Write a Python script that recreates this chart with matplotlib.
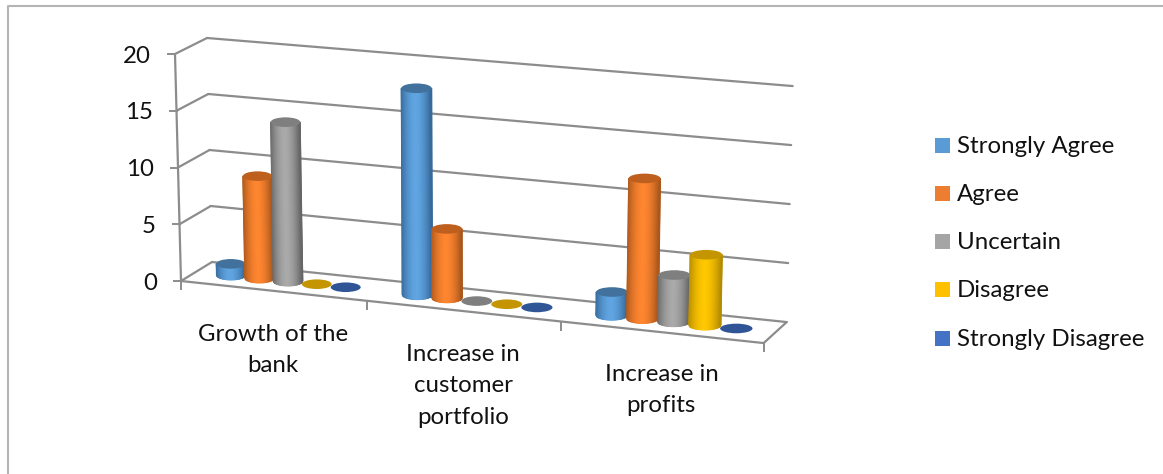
import numpy as np
import matplotlib
matplotlib.use("Agg")
import matplotlib.pyplot as plt
from matplotlib.colors import LinearSegmentedColormap
from matplotlib.patches import Ellipse, Rectangle

categories = ["Growth of the\nbank", "Increase in\ncustomer\nportfolio", "Increase in\nprofits"]
series = ["Strongly Agree", "Agree", "Uncertain", "Disagree", "Strongly Disagree"]
strongly_agree = [1, 18, 2]
agree = [9, 6, 12]
uncertain = [14, 0, 4]
disagree = [0, 0, 6]
strongly_disagree = [0, 0, 0]
y_ticks = [0, 5, 10, 15, 20]

values = [strongly_agree, agree, uncertain, disagree, strongly_disagree]

# (dark edge, light centre, cap) for each series
shades = [
    ("#37699a", "#60a5e2", "#41719c"),
    ("#a9571c", "#ff8630", "#bf5f1e"),
    ("#666666", "#aaaaaa", "#7f7f7f"),
    ("#b58c00", "#ffc800", "#c49500"),
    ("#2f5597", "#4472c4", "#2f5597"),
]
legend_colors = ["#5b9bd5", "#ed7d31", "#a5a5a5", "#ffc000", "#4472c4"]
grid_color = "#8c8c8c"
text_color = "#111111"

# pixel corners of the 3d box, u along categories, w front to back
front_bottom = np.array([[181, 281], [763, 343]], dtype=float)
back_bottom = np.array([[212, 262], [786, 322]], dtype=float)
front_top = np.array([[175, 54], [769, 107]], dtype=float)
back_top = np.array([[207, 38], [792, 86]], dtype=float)


def project(u, val, w):
    # categories get wider to the right, the box is in perspective
    t = u / (3.19 - 0.0645 * u)
    v = val / 20
    fb = front_bottom[0] * (1 - t) + front_bottom[1] * t
    bb = back_bottom[0] * (1 - t) + back_bottom[1] * t
    ft = front_top[0] * (1 - t) + front_top[1] * t
    bt = back_top[0] * (1 - t) + back_top[1] * t
    bottom = fb * (1 - w) + bb * w
    top = ft * (1 - w) + bt * w
    return bottom * (1 - v) + top * v


def line3d(ax, a, b, lw=1.6):
    ax.plot([a[0], b[0]], [a[1], b[1]], color=grid_color, lw=lw, solid_capstyle="round", zorder=1)


def cylinder(ax, u, val, shade, z):
    dark, light, cap = shade
    base = project(u, 0, 0.5)
    top = project(u, val, 0.5)
    rx = 14.5 + 0.6 * u
    ry = 4.8
    if val > 0:
        s = np.linspace(-1, 1, 41)
        xs = np.vstack([top[0] + s * rx, base[0] + s * rx])
        ys = np.vstack([np.full_like(s, top[1]), base[1] + ry * np.sqrt(1 - s * s)])
        cmap = LinearSegmentedColormap.from_list("bar", [dark, light])
        shade_vals = 1 - np.abs(s + 0.05) ** 1.8
        ax.pcolormesh(xs, ys, np.vstack([shade_vals, shade_vals]), cmap=cmap, vmin=0, vmax=1,
                      shading="gouraud", zorder=z)
    ax.add_patch(Ellipse(top, 2 * rx, 2 * ry, facecolor=cap, edgecolor="none", zorder=z + 0.5))


plt.rcParams["font.family"] = ["Lato", "DejaVu Sans"]

fig = plt.figure(figsize=(11.63, 4.74), dpi=100)
ax = fig.add_axes([0, 0, 1, 1])

# outer frame of the pasted chart
ax.plot([1163, 8, 8], [5.5, 5.5, 474], color="#b4b4b4", lw=1.5, zorder=0)

# walls and floor
for tick in y_ticks:
    line3d(ax, project(0, tick, 0), project(0, tick, 1))
    line3d(ax, project(0, tick, 1), project(3, tick, 1))
    p = project(0, tick, 0)
    ax.plot([p[0] - 7, p[0]], [p[1], p[1]], color=grid_color, lw=1.4, zorder=1)
    ax.text(p[0] - 24, p[1] + 2, str(tick), ha="right", va="center", fontsize=17.3, color=text_color)
line3d(ax, project(0, 0, 0), project(0, 20, 0))
line3d(ax, project(0, 0, 0), project(3, 0, 0))
line3d(ax, project(3, 0, 0), project(3, 0, 1))
for i in range(4):
    p = project(i, 0, 0)
    ax.plot([p[0], p[0]], [p[1], p[1] + 8], color=grid_color, lw=1.4, zorder=1)

# cylinders, left to right so the later ones sit on top
z = 2
for i in range(len(categories)):
    for j in range(len(series)):
        u = i + 0.5 + (j - 2) * 0.155
        cylinder(ax, u, values[j][i], shades[j], z)
        z += 1

label_y = [350, 386, 390]
for i, name in enumerate(categories):
    x = project(i + 0.5, 0, 0)[0]
    ax.text(x, label_y[i], name, ha="center", va="center", fontsize=17.3,
            color=text_color, linespacing=1.6)

legend_y = [145, 193, 241, 289, 338]
for name, col, y in zip(series, legend_colors, legend_y):
    ax.add_patch(Rectangle((935, y - 7.5), 15, 15, facecolor=col, edgecolor="none"))
    ax.text(957, y + 1.5, name, ha="left", va="center", fontsize=17.3, color=text_color)

ax.set_xlim(0, 1163)
ax.set_ylim(474, 0)
ax.axis("off")

fig.savefig("out.png", dpi=100)
